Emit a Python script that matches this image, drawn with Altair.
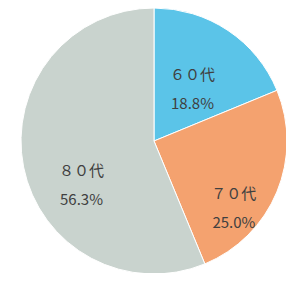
import altair as alt
import pandas as pd

categories = ["６０代", "７０代", "８０代"]
percents = [18.8, 25.0, 56.3]
labels = ["18.8%", "25.0%", "56.3%"]
colors = ["#5BC4E8", "#F4A26F", "#C9D3CE"]

df = pd.DataFrame({
    "cat": categories,
    "pct": percents,
    "lbl": [f"{c}\n{l}" for c, l in zip(categories, labels)],
    "ord": list(range(len(categories))),
})

cx, cy = 146, 133
base = alt.Chart(df).encode(
    theta=alt.Theta("pct:Q", stack=True),
    order=alt.Order("ord:Q"),
    x=alt.value(cx),
    y=alt.value(cy),
)

pie = base.mark_arc(outerRadius=133, stroke="#ffffff", strokeWidth=1).encode(
    color=alt.Color("cat:N", scale=alt.Scale(domain=categories, range=colors), legend=None)
)

offsets = {"６０代": (-6, 0), "７０代": (6, 22), "８０代": (6, 14)}
texts = []
for c in categories:
    dx, dy = offsets[c]
    texts.append(
        base.mark_text(radius=80, dx=dx, dy=dy, fontSize=15, lineHeight=29,
                       font="Noto Sans CJK JP", color="#404040", align="center",
                       baseline="middle", lineBreak="\n")
        .encode(text="lbl:N", opacity=alt.condition(alt.datum.cat == c, alt.value(1), alt.value(0)))
    )

chart = alt.layer(pie, *texts).properties(
    width=278, height=265, padding=0, autosize="none", background="#FFFFFF"
).configure_view(stroke=None)

chart.save("out.html", embed_options={"renderer": "svg", "actions": False})
